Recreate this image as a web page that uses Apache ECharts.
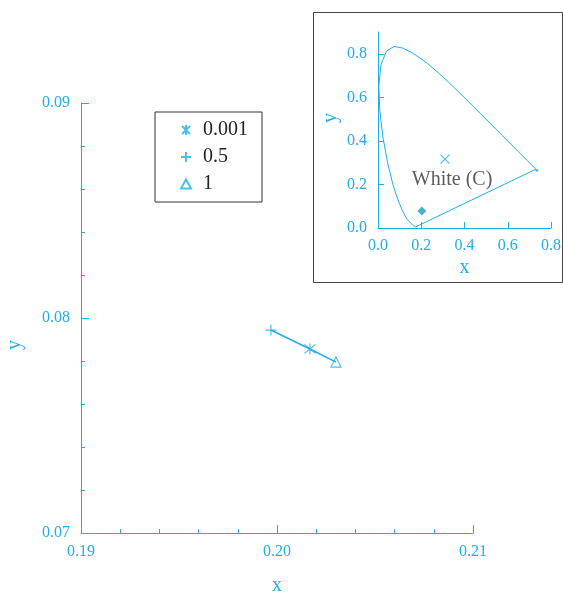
<!DOCTYPE html>
<html>
<head>
<meta charset="utf-8">
<script src="https://cdn.jsdelivr.net/npm/echarts@6/dist/echarts.min.js"></script>
<style>
  html, body { margin: 0; padding: 0; background: #fff; }
  #chart { width: 563px; height: 593px; }
</style>
</head>
<body>
<div id="chart"></div>
<script>
// main chart: points
const ptHalf = [0.19969, 0.07944];    // "0.5"  (+)
const ptSmall = [0.20168, 0.07856];   // "0.001" (*)
const ptOne = [0.20301, 0.07795];     // "1" (triangle)
const pathPts = [ptHalf, ptSmall, ptOne];

// inset: CIE 1931 spectral locus
const locusX = [0.1741, 0.1733, 0.1714, 0.1689, 0.1644, 0.1566, 0.1440, 0.1355, 0.1241, 0.1096,
  0.0913, 0.0687, 0.0454, 0.0235, 0.0082, 0.0039, 0.0139, 0.0389, 0.0743, 0.1142,
  0.1547, 0.1929, 0.2296, 0.2658, 0.3016, 0.3373, 0.3731, 0.4087, 0.4441, 0.4788,
  0.5125, 0.5448, 0.5752, 0.6029, 0.6270, 0.6658, 0.6915, 0.7079, 0.7190, 0.7260,
  0.7300, 0.7334, 0.7347, 0.1741];
const locusY = [0.0050, 0.0048, 0.0051, 0.0069, 0.0109, 0.0177, 0.0297, 0.0399, 0.0578, 0.0868,
  0.1327, 0.2007, 0.2950, 0.4127, 0.5384, 0.6548, 0.7502, 0.8120, 0.8338, 0.8262,
  0.8059, 0.7816, 0.7543, 0.7243, 0.6923, 0.6589, 0.6245, 0.5896, 0.5547, 0.5202,
  0.4866, 0.4544, 0.4242, 0.3965, 0.3725, 0.3340, 0.3083, 0.2920, 0.2809, 0.2740,
  0.2700, 0.2666, 0.2653, 0.0050];
const redEnd = [0.7347, 0.2653];
const whiteC = [0.3101, 0.3162];
const zoomPt = [0.203, 0.078];

const C = '#1eaee8';
const FONT = '"Liberation Serif", "DejaVu Serif", serif';

const starPath = 'path://M5,0L5,10M1,1L9,9M9,1L1,9';
const plusPath = 'path://M0,5L10,5M5,0L5,10';
const triPath = 'path://M5,0L10,9L0,9Z';
const crossPath = 'path://M0,0L10,10M10,0L0,10';

const chart = echarts.init(document.getElementById('chart'));

function axisCommon(extra) {
  return Object.assign({
    type: 'value',
    axisLine: { show: true, lineStyle: { color: C, width: 1 } },
    axisTick: { show: true, inside: true, length: 8, lineStyle: { color: C } },
    splitLine: { show: false },
    axisLabel: { color: C, fontFamily: FONT, fontSize: 16, margin: 11 },
    nameTextStyle: { color: C, fontFamily: FONT, fontSize: 20 },
    nameLocation: 'middle'
  }, extra);
}

function markItem() {
  return { color: 'transparent', borderColor: C, borderWidth: 1.2 };
}

chart.setOption({
  animation: false,
  backgroundColor: '#fff',
  graphic: [{
    type: 'rect',
    shape: { x: 313.5, y: 12.5, width: 249, height: 270 },
    style: { fill: 'none', stroke: '#444', lineWidth: 1 },
    z: 0
  }],
  legend: {
    orient: 'vertical',
    left: 155,
    top: 112,
    padding: [8, 14, 8, 25],
    borderColor: '#333',
    borderWidth: 1,
    itemWidth: 10,
    itemHeight: 10,
    itemGap: 7,
    textStyle: { color: '#222', fontFamily: FONT, fontSize: 20, lineHeight: 20, padding: [0, 0, 0, 7] },
    data: ['0.001', '0.5', '1']
  },
  grid: [
    { left: 81, right: 90, top: 103, bottom: 60, outerBoundsMode: 'none' },
    { left: 378, right: 12, top: 32, bottom: 365, outerBoundsMode: 'none' }
  ],
  xAxis: [
    axisCommon({
      gridIndex: 0, min: 0.19, max: 0.21, interval: 0.01,
      name: 'x', nameGap: 43,
      minorTick: { show: true, splitNumber: 5, length: 4, lineStyle: { color: C } },
      axisLabel: { color: C, fontFamily: FONT, fontSize: 16, margin: 11, formatter: v => v.toFixed(2) }
    }),
    axisCommon({
      gridIndex: 1, min: 0, max: 0.8, interval: 0.2,
      name: 'x', nameGap: 30,
      axisTick: { show: true, inside: true, length: 6, lineStyle: { color: C } },
      axisLabel: { color: C, fontFamily: FONT, fontSize: 16, margin: 10, formatter: v => v.toFixed(1) }
    })
  ],
  yAxis: [
    axisCommon({
      gridIndex: 0, min: 0.07, max: 0.09, interval: 0.01,
      name: 'y', nameGap: 56,
      nameTextStyle: { color: C, fontFamily: FONT, fontSize: 20, padding: [0, 54, 0, 0] },
      minorTick: { show: true, splitNumber: 5, length: 4, lineStyle: { color: C } },
      axisLabel: { color: C, fontFamily: FONT, fontSize: 16, margin: 11, formatter: v => v.toFixed(2) }
    }),
    axisCommon({
      gridIndex: 1, min: 0, max: 0.9, interval: 0.2,
      name: 'y', nameGap: 37,
      nameTextStyle: { color: C, fontFamily: FONT, fontSize: 20, padding: [0, 0, 0, 24] },
      axisTick: { show: true, inside: true, length: 6, lineStyle: { color: C } },
      axisLabel: { color: C, fontFamily: FONT, fontSize: 16, margin: 11, showMaxLabel: false, formatter: v => v.toFixed(1) }
    })
  ],
  series: [
    {
      type: 'line', xAxisIndex: 0, yAxisIndex: 0,
      data: pathPts, symbol: 'none', silent: true,
      lineStyle: { color: C, width: 1.5 }
    },
    {
      name: '0.001', type: 'scatter', xAxisIndex: 0, yAxisIndex: 0,
      data: [ptSmall], symbol: starPath, symbolSize: 11, itemStyle: markItem()
    },
    {
      name: '0.5', type: 'scatter', xAxisIndex: 0, yAxisIndex: 0,
      data: [ptHalf], symbol: plusPath, symbolSize: 11, itemStyle: markItem()
    },
    {
      name: '1', type: 'scatter', xAxisIndex: 0, yAxisIndex: 0,
      data: [ptOne], symbol: triPath, symbolSize: 10, itemStyle: markItem()
    },
    {
      type: 'line', xAxisIndex: 1, yAxisIndex: 1, silent: true,
      data: locusX.map((x, i) => [x, locusY[i]]),
      symbol: 'none', lineStyle: { color: C, width: 1 }
    },
    {
      type: 'scatter', xAxisIndex: 1, yAxisIndex: 1, silent: true,
      data: [redEnd], symbolSize: 3, itemStyle: { color: C }
    },
    {
      type: 'scatter', xAxisIndex: 1, yAxisIndex: 1, silent: true,
      data: [whiteC], symbol: crossPath, symbolSize: 9, itemStyle: markItem(),
      label: {
        show: true, position: 'bottom', distance: 6, offset: [7, 0],
        formatter: 'White (C)', color: '#333', fontFamily: FONT, fontSize: 20
      }
    },
    {
      type: 'scatter', xAxisIndex: 1, yAxisIndex: 1, silent: true,
      data: [zoomPt], symbol: 'diamond', symbolSize: 9, itemStyle: { color: '#1a9cc4' }
    }
  ]
});
</script>
</body>
</html>
